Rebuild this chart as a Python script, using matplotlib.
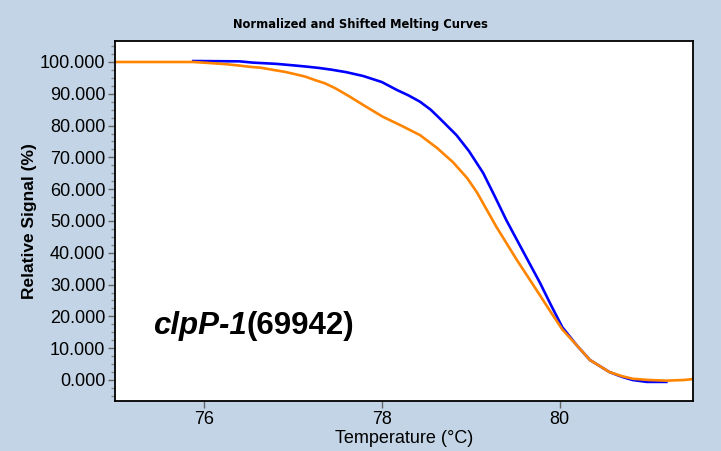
import matplotlib.pyplot as plt
from matplotlib.ticker import MultipleLocator, FormatStrFormatter

# normalized melt curves, temperature in degC vs relative signal in %
temp_blue = [75.88, 76.40, 76.55, 76.82, 77.02, 77.17, 77.30, 77.43, 77.60, 77.79,
             78.00, 78.17, 78.30, 78.43, 78.55, 78.65, 78.84, 78.98, 79.14, 79.27,
             79.40, 79.58, 79.78, 79.90, 80.03, 80.19, 80.34, 80.56, 80.70, 80.82,
             80.98, 81.20]
signal_blue = [100.3, 100.2, 99.8, 99.4, 98.9, 98.5, 98.1, 97.6, 96.8, 95.6,
               93.7, 91.2, 89.5, 87.5, 85.0, 82.3, 77.0, 72.0, 65.1, 57.8,
               50.3, 40.9, 30.5, 23.7, 16.6, 11.0, 6.3, 2.5, 1.0, 0.0,
               -0.6, -0.6]

temp_orange = [75.00, 75.88, 76.05, 76.25, 76.39, 76.51, 76.64, 76.78, 76.91, 77.02,
               77.14, 77.25, 77.36, 77.48, 77.64, 77.79, 78.01, 78.24, 78.43, 78.62,
               78.80, 78.96, 79.07, 79.29, 79.52, 79.74, 79.89, 80.03, 80.19, 80.34,
               80.56, 80.70, 80.82, 81.00, 81.20, 81.40, 81.50]
signal_orange = [100.0, 100.0, 99.7, 99.3, 98.9, 98.5, 98.2, 97.5, 96.9, 96.2,
                 95.4, 94.3, 93.3, 91.7, 89.1, 86.5, 82.8, 79.7, 77.0, 73.0,
                 68.5, 63.5, 59.0, 48.1, 37.7, 28.3, 21.8, 15.9, 11.0, 6.3,
                 2.5, 1.2, 0.4, 0.0, -0.2, 0.0, 0.3]

yticks = list(range(0, 101, 10))
xticks = [76, 78, 80]

bg = '#c2d4e5'
sans = ['Liberation Sans', 'DejaVu Sans']

fig = plt.figure(figsize=(7.21, 4.51), dpi=100, facecolor=bg)
ax = fig.add_axes([0.1595, 0.1109, 0.8017, 0.7982])

ax.plot(temp_blue, signal_blue, color='#0000ff', lw=1.9)
ax.plot(temp_orange, signal_orange, color='#ff8400', lw=1.9)

ax.set_xlim(75.0, 81.5)
ax.set_ylim(-6.6, 106.6)
ax.set_xticks(xticks)
ax.set_yticks(yticks)
ax.yaxis.set_minor_locator(MultipleLocator(2.5))
ax.yaxis.set_major_formatter(FormatStrFormatter('%.3f'))

ax.tick_params(axis='both', which='major', direction='out', length=5,
               width=1, color='#666666', labelsize=13, pad=2)
ax.tick_params(axis='y', which='minor', direction='out', length=3,
               width=1, color='#888888')
for lab in ax.get_xticklabels() + ax.get_yticklabels():
    lab.set_family(sans)

for s in ax.spines.values():
    s.set_color('black')
    s.set_linewidth(1.3)

ax.set_xlabel('Temperature (°C)', family=sans, fontsize=13, labelpad=2)
ax.set_ylabel('Relative Signal (%)', family=sans, fontweight='bold',
              fontsize=12.5, labelpad=2)

fig.text(0.5, 1 - 24.5 / 451, 'Normalized and Shifted Melting Curves',
         ha='center', va='center', fontsize=8.3, fontweight='bold',
         family='DejaVu Sans')

# gene label: italic name followed by the strain number
t1 = ax.text(75.43, 14.6, 'clpP-1', family=sans, fontsize=22.5,
             fontweight='bold', fontstyle='italic', va='baseline', ha='left')
ax.annotate('(69942)', xy=(1, 0), xycoords=t1, va='bottom', ha='left',
            family=sans, fontsize=22.5, fontweight='bold')

fig.savefig('out.png', dpi=100, facecolor=bg)
